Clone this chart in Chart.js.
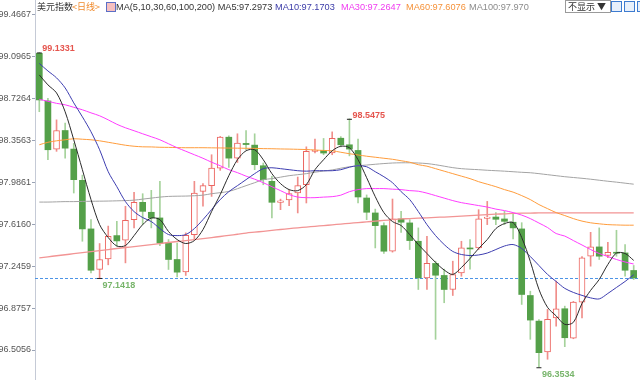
<!DOCTYPE html>
<html>
<head>
<meta charset="utf-8">
<script src="https://cdn.jsdelivr.net/npm/chart.js@4.4.1/dist/chart.umd.min.js"></script>
<style>
  body { margin: 0; background: #fff; }
  #wrap { position: relative; width: 640px; height: 380px; }
  #head { position: absolute; left: 0; top: 0; width: 640px; height: 14px; font: 9.2px "Liberation Sans", Arial, "Noto Sans CJK SC", sans-serif; white-space: nowrap; z-index: 2; }
  #head span { position: absolute; top: 1px; line-height: 12px; }
  .cjk { font-family: "Noto Sans CJK SC", sans-serif; font-size: 9px; }
  .btn { border: 1px solid #9a9a9a; background: #fff; height: 11px; top: 0 !important; }
  .ico { width: 9px; height: 9px; border: 1px solid #3d7bd0; background: #e8f0fb; top: 1px !important; }
</style>
</head>
<body>
<div id="wrap">
  <div id="head">
    <span class="cjk" style="left:37px;color:#333">美元指数</span>
    <span class="cjk" style="left:72px;color:#f08a2c">&lt;日线&gt;</span>
    <span style="left:106px;top:2px;width:8px;height:8px;border:1px solid #5b6fc6;background:#f6c0c0"></span>
    <span style="left:116px;color:#333">MA(5,10,30,60,100,200) MA5:97.2973</span>
    <span style="left:275px;color:#3b3ba8">MA10:97.1703</span>
    <span style="left:341px;color:#f03cf0">MA30:97.2647</span>
    <span style="left:406px;color:#f5923a">MA60:97.6076</span>
    <span style="left:469px;color:#8c8c8c">MA100:97.970</span>
    <span class="btn cjk" style="left:565px;width:42px;color:#333;padding-left:2px">不显示 ▼</span>
    <span class="ico" style="left:611px"></span>
    <span class="ico" style="left:624px"></span>
    <span class="ico" style="left:637px"></span>
  </div>
  <canvas id="chart" width="640" height="380"></canvas>
</div>
<script>
const yTicks = [96.5056, 96.8757, 97.2459, 97.6160, 97.9861, 98.3563, 98.7264, 99.0965, 99.4667];

const opens = [99.125, 98.705, 98.28, 98.444, 98.28, 98.004, 97.575, 97.217, 97.31, 97.516,
  97.475, 97.657, 97.81, 97.722, 97.672, 97.45, 97.305, 97.196, 97.525, 97.907,
  97.957, 98.112, 98.385, 98.2, 98.33, 98.315, 98.133, 97.995, 97.81, 97.83,
  97.892, 97.966, 98.26, 98.268, 98.245, 98.376, 98.318, 98.268, 97.848, 97.716,
  97.604, 97.378, 97.663, 97.628, 97.466, 97.143, 97.27, 97.164, 97.04, 97.187,
  97.407, 97.407, 97.668, 97.68, 97.663, 97.634, 97.575, 96.987, 96.761, 96.488,
  96.79, 96.87, 96.611, 96.929, 97.334, 97.416, 97.34, 97.369, 97.363, 97.208];
const highs = [99.1331, 98.729, 98.538, 98.509, 98.33, 98.05, 97.657, 97.446, 97.6, 97.642,
  97.775, 97.898, 97.886, 97.916, 97.995, 97.481, 97.45, 97.54, 97.995, 97.975,
  98.23, 98.392, 98.397, 98.415, 98.444, 98.415, 98.157, 98.04, 97.838, 97.92,
  98.033, 98.3, 98.368, 98.374, 98.432, 98.39, 98.5475, 98.368, 97.875, 97.75,
  97.628, 97.839, 97.73, 97.657, 97.584, 97.51, 97.29, 97.22, 97.29, 97.466,
  97.48, 97.745, 97.818, 97.72, 97.73, 97.707, 97.63, 97.025, 96.775, 96.864,
  97.114, 96.893, 96.935, 97.33, 97.545, 97.584, 97.457, 97.563, 97.436, 97.252];
const lows = [98.61, 98.186, 98.26, 98.2, 97.892, 97.466, 97.187, 97.1418, 97.258, 97.422,
  97.275, 97.584, 97.613, 97.584, 97.428, 97.217, 97.152, 97.164, 97.48, 97.775,
  97.862, 98.092, 98.118, 98.162, 98.274, 98.098, 97.965, 97.672, 97.745, 97.78,
  97.716, 97.804, 98.245, 98.23, 98.23, 98.3, 98.22, 97.804, 97.657, 97.407,
  97.358, 97.37, 97.545, 97.393, 97.04, 97.04, 96.6, 96.923, 96.987, 97.157,
  97.22, 97.393, 97.613, 97.613, 97.613, 97.487, 96.908, 96.6, 96.3534, 96.424,
  96.717, 96.535, 96.605, 96.79, 97.246, 97.305, 97.32, 97.334, 97.157, 97.128];
const closes = [98.714, 98.274, 98.444, 98.288, 98.01, 97.575, 97.21, 97.305, 97.51, 97.469,
  97.651, 97.81, 97.73, 97.672, 97.45, 97.305, 97.193, 97.519, 97.892, 97.957,
  98.112, 98.385, 98.2, 98.333, 98.32, 98.142, 98.01, 97.81, 97.822, 97.886,
  97.957, 98.26, 98.27, 98.245, 98.374, 98.318, 98.28, 97.857, 97.722, 97.604,
  97.378, 97.663, 97.634, 97.472, 97.143, 97.27, 97.166, 97.04, 97.172, 97.407,
  97.398, 97.663, 97.68, 97.66, 97.642, 97.584, 96.996, 96.77, 96.482, 96.776,
  96.87, 96.614, 96.929, 97.319, 97.416, 97.334, 97.369, 97.36, 97.21, 97.143];

const ma5 = [98.935, 98.847, 98.776, 98.609, 98.362, 98.098, 97.834, 97.613, 97.499, 97.424,
  97.428, 97.516, 97.613, 97.671, 97.657, 97.552, 97.481, 97.446, 97.472, 97.569,
  97.728, 97.878, 98.045, 98.186, 98.265, 98.274, 98.186, 98.063, 97.975, 97.922,
  97.913, 97.966, 98.098, 98.186, 98.265, 98.305, 98.292, 98.186, 98.027, 97.86,
  97.719, 97.64, 97.605, 97.525, 97.437, 97.358, 97.279, 97.212, 97.173, 97.234,
  97.314, 97.402, 97.481, 97.578, 97.622, 97.631, 97.499, 97.287, 97.041, 96.882,
  96.807, 96.732, 96.75, 96.917, 97.032, 97.129, 97.261, 97.362, 97.358, 97.297];
const ma10 = [99.036, 98.97, 98.909, 98.82, 98.688, 98.565, 98.433, 98.274, 98.08, 97.948,
  97.816, 97.728, 97.675, 97.64, 97.578, 97.525, 97.516, 97.525, 97.578, 97.657,
  97.746, 97.834, 97.904, 97.957, 98.01, 98.063, 98.107, 98.115, 98.107, 98.098,
  98.089, 98.085, 98.089, 98.089, 98.089, 98.098, 98.12, 98.133, 98.124, 98.08,
  98.036, 97.983, 97.904, 97.834, 97.728, 97.613, 97.516, 97.437, 97.376, 97.349,
  97.34, 97.345, 97.362, 97.393, 97.424, 97.437, 97.402, 97.331, 97.252, 97.173,
  97.111, 97.05, 97.014, 96.988, 96.966, 96.957, 97.005, 97.058, 97.111, 97.170];
const ma30 = [98.719, 98.702, 98.684, 98.671, 98.649, 98.627, 98.6, 98.574, 98.538, 98.499,
  98.468, 98.442, 98.415, 98.389, 98.362, 98.327, 98.292, 98.261, 98.23, 98.199,
  98.164, 98.133, 98.098, 98.072, 98.041, 98.014, 97.983, 97.948, 97.913, 97.878,
  97.856, 97.851, 97.851, 97.856, 97.86, 97.873, 97.904, 97.922, 97.931, 97.931,
  97.931, 97.926, 97.922, 97.913, 97.908, 97.891, 97.869, 97.847, 97.825, 97.807,
  97.794, 97.781, 97.768, 97.75, 97.737, 97.719, 97.697, 97.666, 97.627, 97.587,
  97.534, 97.512, 97.472, 97.433, 97.393, 97.358, 97.331, 97.305, 97.283, 97.265];
const ma60 = [98.318, 98.34, 98.353, 98.362, 98.371, 98.367, 98.362, 98.353, 98.34, 98.327,
  98.314, 98.305, 98.3, 98.299, 98.296, 98.295, 98.293, 98.292, 98.292, 98.292,
  98.291, 98.29, 98.289, 98.288, 98.287, 98.286, 98.284, 98.283, 98.281, 98.28,
  98.278, 98.276, 98.272, 98.268, 98.265, 98.252, 98.239, 98.228, 98.217, 98.208,
  98.199, 98.19, 98.177, 98.164, 98.142, 98.129, 98.107, 98.085, 98.063, 98.041,
  98.019, 97.992, 97.97, 97.948, 97.922, 97.9, 97.869, 97.834, 97.79, 97.754,
  97.719, 97.693, 97.666, 97.644, 97.629, 97.62, 97.613, 97.61, 97.608, 97.608];
const ma100 = [97.812, 97.812, 97.814, 97.816, 97.816, 97.818, 97.819, 97.82, 97.821, 97.823,
  97.825, 97.829, 97.838, 97.847, 97.856, 97.862, 97.864, 97.865, 97.868, 97.873,
  97.886, 97.895, 97.906, 97.93, 97.957, 97.983, 98.01, 98.019, 98.032, 98.045,
  98.054, 98.063, 98.076, 98.086, 98.096, 98.111, 98.124, 98.133, 98.139, 98.146,
  98.152, 98.157, 98.159, 98.159, 98.157, 98.152, 98.142, 98.129, 98.116, 98.107,
  98.102, 98.098, 98.093, 98.089, 98.085, 98.08, 98.075, 98.071, 98.063, 98.054,
  98.045, 98.036, 98.029, 98.022, 98.014, 98.005, 97.996, 97.988, 97.979, 97.97];
const ma200 = [97.319, 97.329, 97.338, 97.347, 97.356, 97.366, 97.375, 97.384, 97.393, 97.402,
  97.411, 97.419, 97.428, 97.437, 97.446, 97.455, 97.464, 97.472, 97.481, 97.49,
  97.499, 97.508, 97.518, 97.528, 97.538, 97.546, 97.554, 97.562, 97.57, 97.578,
  97.585, 97.591, 97.598, 97.604, 97.611, 97.618, 97.624, 97.631, 97.637, 97.644,
  97.65, 97.657, 97.663, 97.666, 97.67, 97.673, 97.677, 97.68, 97.684, 97.688,
  97.692, 97.697, 97.701, 97.705, 97.708, 97.712, 97.714, 97.715, 97.716, 97.716,
  97.716, 97.716, 97.717, 97.717, 97.717, 97.717, 97.717, 97.717, 97.717, 97.717];

// candles that carry a high / low label
const highMarks = [0, 36];
const lowMarks = [7, 58];

const labels = closes.map((_, i) => i + 1);
const isUp = i => closes[i] >= opens[i];

const UP = '#ec6560';
const UP_WICK = '#f08e8a';
const DOWN = '#54a049';
const DOWN_WICK = '#a5d29b';

const maLine = (data, color, width) => ({
  type: 'line', data, borderColor: color, borderWidth: width || 1,
  pointRadius: 0, tension: 0.3, order: 0
});

const marks = {
  id: 'marks',
  beforeDatasetsDraw(chart) {
    const { ctx, chartArea, scales: { y } } = chart;
    const py = Math.round(y.getPixelForValue(closes[closes.length - 1])) + 0.5;
    ctx.save();
    ctx.strokeStyle = '#4d94e6';
    ctx.lineWidth = 1;
    ctx.setLineDash([3, 2]);
    ctx.beginPath();
    ctx.moveTo(chartArea.left, py);
    ctx.lineTo(chartArea.right, py);
    ctx.stroke();
    ctx.restore();
  },
  afterDatasetsDraw(chart) {
    const { ctx, scales: { x, y } } = chart;
    ctx.save();
    ctx.font = 'bold 9px "Liberation Sans", Arial, sans-serif';
    const tick = (px, py) => {
      ctx.strokeStyle = '#222';
      ctx.lineWidth = 1;
      ctx.beginPath();
      ctx.moveTo(px - 2.5, py + 0.5);
      ctx.lineTo(px + 2.5, py + 0.5);
      ctx.stroke();
    };
    highMarks.forEach(i => {
      const px = x.getPixelForValue(i), py = y.getPixelForValue(highs[i]);
      tick(px, py);
      ctx.fillStyle = '#e5554e';
      ctx.textBaseline = 'alphabetic';
      ctx.fillText(highs[i].toFixed(4), px + 3, py - 1);
    });
    lowMarks.forEach(i => {
      const px = x.getPixelForValue(i), py = y.getPixelForValue(lows[i]);
      tick(px, py);
      ctx.fillStyle = '#78b56b';
      ctx.textBaseline = 'top';
      ctx.fillText(lows[i].toFixed(4), px + 3, py + 3);
    });
    ctx.restore();
  }
};

new Chart(document.getElementById('chart'), {
  type: 'bar',
  data: {
    labels,
    datasets: [
      maLine(ma5, '#2b2b2b'),
      maLine(ma10, '#3d3db0'),
      maLine(ma30, '#ff3cff'),
      maLine(ma60, '#ff9c3c'),
      maLine(ma100, '#a3a3a3'),
      maLine(ma200, '#f29494', 1.3),
      {
        // candle bodies
        data: opens.map((o, i) => [o, closes[i]]),
        backgroundColor: ctx => isUp(ctx.dataIndex) ? '#ffffff' : DOWN,
        borderColor: ctx => isUp(ctx.dataIndex) ? UP : DOWN,
        borderWidth: ctx => isUp(ctx.dataIndex) ? 1 : 0,
        borderSkipped: false,
        barThickness: 6,
        minBarLength: 1,
        grouped: false,
        order: 1
      },
      {
        // wicks
        data: lows.map((l, i) => [l, highs[i]]),
        backgroundColor: ctx => isUp(ctx.dataIndex) ? UP_WICK : DOWN_WICK,
        borderWidth: 0,
        barThickness: 1,
        grouped: false,
        order: 2
      }
    ]
  },
  options: {
    responsive: false,
    animation: false,
    events: [],
    layout: { padding: { top: 0, bottom: 0, left: 0, right: 2 } },
    plugins: { legend: { display: false }, tooltip: { enabled: false } },
    scales: {
      x: { display: false, offset: true },
      y: {
        position: 'left',
        min: 96.2408,
        max: 99.5965,
        afterBuildTicks: s => { s.ticks = yTicks.map(v => ({ value: v })); },
        afterFit: s => { s.width = 35; s.paddingTop = 0; s.paddingBottom = 0; },
        ticks: {
          font: { size: 9, family: '"Liberation Sans", Arial, sans-serif' },
          color: '#555',
          padding: 1,
          callback: v => Number(v).toFixed(4)
        },
        grid: { drawOnChartArea: false, tickLength: 3, color: '#9aa3b5' },
        border: { color: '#c5cad6', dash: [1, 1] }
      }
    }
  },
  plugins: [marks]
});
</script>
</body>
</html>
